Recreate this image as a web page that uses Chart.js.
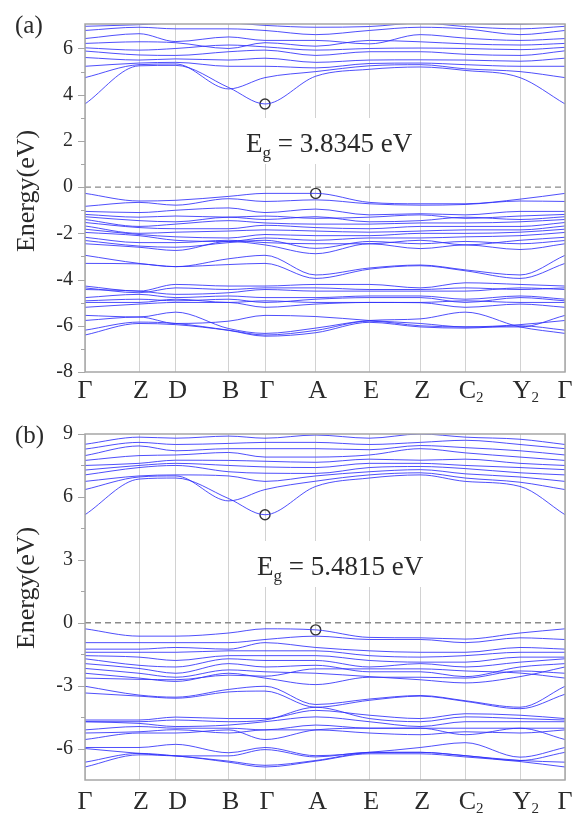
<!DOCTYPE html>
<html>
<head>
<meta charset="utf-8">
<script src="https://cdn.jsdelivr.net/npm/chart.js@4.4.0/dist/chart.umd.min.js"></script>
<style>
  html, body { margin: 0; padding: 0; background: #fff; }
  canvas { position: absolute; left: 0; }
  #bandsA { top: 0; }
  #bandsB { top: 410px; }
</style>
</head>
<body>
<canvas id="bandsA" width="573" height="410"></canvas>
<canvas id="bandsB" width="573" height="403"></canvas>
<script>
// k-path (distance along path) and its labels
var kPoints = [0, 54, 90.7, 143.7, 180, 230.7, 284.3, 335.3, 380.3, 435, 480];
var kLabels = ['Γ', 'Z', 'D', 'B', 'Γ', 'A', 'E', 'Z', 'C₂', 'Y₂', 'Γ'];

// panel (a): energies (eV) at each k-point, Γ Z D B Γ A E Z C2 Y2 Γ
var yTicksA = [-8, -6, -4, -2, 0, 2, 4, 6];
var yMinorA = [-7, -5, -3, -1, 1, 3, 5];
var condA = [
  [3.6, 5.25, 5.27, 4.31, 3.6, 4.8, 5.1, 5.2, 5.05, 4.74, 3.6],
  [4.74, 5.3, 5.33, 4.25, 4.74, 5.0, 5.25, 5.3, 5.12, 5.0, 4.74],
  [5.23, 5.37, 5.4, 5.23, 5.23, 5.16, 5.35, 5.37, 5.3, 5.23, 5.23],
  [5.61, 5.5, 5.55, 5.5, 5.58, 5.4, 5.5, 5.51, 5.5, 5.45, 5.58],
  [5.89, 5.72, 5.7, 5.86, 5.93, 5.7, 5.86, 5.86, 5.75, 5.7, 5.9],
  [6.03, 5.93, 6.0, 6.15, 6.07, 5.93, 6.0, 6.02, 6.0, 5.95, 6.05],
  [6.22, 6.29, 6.25, 6.0, 6.25, 6.1, 6.35, 6.29, 6.2, 6.15, 6.22],
  [6.43, 6.64, 6.3, 6.5, 6.35, 6.35, 6.2, 6.6, 6.45, 6.35, 6.43],
  [6.78, 6.92, 6.85, 6.85, 6.78, 6.6, 6.78, 6.92, 6.85, 6.6, 6.78],
  [6.96, 7.03, 7.1, 7.1, 7.0, 6.92, 6.95, 7.1, 6.95, 6.85, 6.96],
  [7.2, 7.3, 7.25, 7.2, 7.15, 7.1, 7.2, 7.3, 7.1, 7.05, 7.2]
];
var valA = [
  [-0.27, -0.6, -0.57, -0.4, -0.27, -0.27, -0.66, -0.72, -0.72, -0.52, -0.27],
  [-0.83, -0.66, -0.78, -0.5, -0.62, -0.55, -0.72, -0.78, -0.75, -0.6, -0.62],
  [-1.05, -1.1, -1.0, -0.9, -1.1, -0.95, -1.2, -1.15, -1.2, -1.05, -1.05],
  [-1.18, -1.3, -1.25, -1.3, -1.25, -1.35, -1.3, -1.2, -1.35, -1.25, -1.18],
  [-1.28, -1.45, -1.5, -1.3, -1.4, -1.28, -1.5, -1.45, -1.3, -1.4, -1.28],
  [-1.4, -1.7, -1.6, -1.45, -1.55, -1.6, -1.6, -1.55, -1.55, -1.5, -1.4],
  [-1.53, -1.75, -1.8, -1.8, -1.65, -1.75, -1.8, -1.7, -1.7, -1.7, -1.53],
  [-1.68, -2.0, -1.95, -1.9, -1.85, -1.9, -1.95, -1.9, -1.85, -1.85, -1.68],
  [-1.82, -2.05, -2.15, -2.2, -2.05, -2.1, -2.1, -2.0, -2.0, -1.95, -1.82],
  [-1.96, -2.1, -2.3, -2.35, -2.2, -2.3, -2.2, -2.2, -2.15, -2.1, -1.96],
  [-2.17, -2.4, -2.4, -2.3, -2.4, -2.45, -2.45, -2.3, -2.5, -2.3, -2.17],
  [-2.31, -2.55, -2.6, -2.4, -2.3, -2.65, -2.35, -2.45, -2.35, -2.45, -2.31],
  [-2.45, -2.6, -2.74, -2.35, -2.5, -2.88, -2.45, -2.66, -2.5, -2.7, -2.45],
  [-2.95, -3.3, -3.44, -3.1, -2.95, -3.8, -3.5, -3.37, -3.58, -3.8, -2.95],
  [-3.3, -3.32, -3.44, -3.35, -3.3, -3.95, -3.55, -3.4, -3.62, -3.95, -3.3],
  [-4.28, -4.5, -4.21, -4.28, -4.28, -4.21, -4.21, -4.36, -4.14, -4.21, -4.28],
  [-4.36, -4.57, -4.36, -4.43, -4.36, -4.36, -4.43, -4.43, -4.36, -4.43, -4.36],
  [-4.43, -4.5, -4.64, -4.57, -4.43, -4.5, -4.5, -4.5, -4.5, -4.36, -4.43],
  [-4.78, -4.64, -4.78, -4.71, -4.78, -4.78, -4.71, -4.71, -4.85, -4.71, -4.85],
  [-4.92, -4.85, -4.92, -4.85, -4.99, -4.85, -4.78, -4.78, -4.99, -4.78, -4.92],
  [-4.99, -4.99, -4.85, -4.99, -4.92, -4.99, -4.99, -4.99, -4.92, -4.99, -4.99],
  [-5.2, -5.06, -4.99, -4.99, -5.2, -5.06, -4.99, -5.0, -5.2, -5.06, -5.2],
  [-5.55, -5.62, -5.41, -6.12, -6.33, -6.1, -5.77, -5.7, -5.41, -6.05, -6.33],
  [-5.77, -5.62, -5.9, -5.8, -5.55, -5.6, -5.77, -5.9, -6.05, -6.05, -5.55],
  [-6.19, -5.84, -5.9, -6.19, -6.4, -6.2, -5.8, -6.0, -6.05, -5.95, -5.77],
  [-6.4, -5.9, -5.95, -6.2, -6.45, -6.3, -5.85, -6.05, -6.1, -6.0, -6.19]
];
var gapKA = [180, 230.7];
var gapEA = [3.6, -0.27];

// panel (b)
var yTicksB = [-6, -3, 0, 3, 6, 9];
var yMinorB = [-4.5, -1.5, 1.5, 4.5, 7.5];
var condB = [
  [5.15, 6.85, 6.9, 5.92, 5.15, 6.5, 6.9, 7.05, 6.74, 6.5, 5.15],
  [6.35, 6.95, 7.0, 5.81, 6.35, 6.75, 7.05, 7.15, 6.9, 6.7, 6.35],
  [6.74, 7.0, 7.05, 7.0, 6.74, 7.0, 7.2, 7.3, 7.1, 6.95, 6.74],
  [7.05, 7.4, 7.5, 7.2, 7.13, 7.12, 7.4, 7.45, 7.35, 7.15, 7.05],
  [7.28, 7.5, 7.6, 7.5, 7.43, 7.4, 7.6, 7.6, 7.5, 7.4, 7.3],
  [7.5, 7.6, 7.75, 7.74, 7.7, 7.65, 7.8, 7.75, 7.8, 7.6, 7.5],
  [7.74, 7.97, 8.0, 8.12, 7.9, 7.9, 8.0, 8.3, 8.1, 7.9, 7.74],
  [7.97, 8.43, 8.2, 8.3, 8.3, 8.3, 8.25, 8.45, 8.35, 8.2, 8.0],
  [8.28, 8.6, 8.5, 8.55, 8.6, 8.6, 8.5, 8.6, 8.7, 8.5, 8.3],
  [8.51, 8.85, 8.8, 8.9, 8.8, 8.95, 8.8, 9.0, 8.85, 8.75, 8.5]
];
var valB = [
  [-0.29, -0.64, -0.64, -0.49, -0.29, -0.34, -0.7, -0.72, -0.78, -0.49, -0.29],
  [-0.95, -0.95, -0.95, -0.95, -0.8, -0.64, -0.8, -0.8, -0.95, -0.72, -0.8],
  [-1.26, -1.26, -1.18, -1.26, -0.95, -1.18, -1.34, -1.41, -1.41, -1.18, -1.26],
  [-1.41, -1.41, -1.41, -1.34, -1.34, -1.34, -1.57, -1.64, -1.57, -1.41, -1.41],
  [-1.57, -1.64, -1.8, -1.57, -1.57, -1.57, -1.8, -1.88, -1.88, -1.64, -1.64],
  [-1.72, -2.03, -2.11, -1.72, -1.8, -1.8, -2.11, -1.95, -2.11, -1.88, -1.72],
  [-1.95, -2.18, -2.41, -1.95, -2.11, -2.03, -2.34, -2.34, -2.57, -2.11, -1.95],
  [-2.18, -2.41, -2.6, -2.25, -2.34, -2.41, -2.57, -2.72, -2.87, -2.57, -2.11],
  [-2.41, -2.64, -2.8, -2.41, -2.64, -2.95, -2.6, -2.6, -2.64, -2.3, -2.41],
  [-2.64, -2.7, -2.72, -2.5, -2.55, -2.2, -2.2, -2.2, -2.3, -2.4, -2.64],
  [-3.03, -3.45, -3.55, -3.18, -3.03, -3.9, -3.64, -3.47, -3.72, -4.03, -3.03],
  [-3.35, -3.5, -3.6, -3.3, -3.26, -4.03, -3.7, -3.5, -3.75, -4.1, -3.41],
  [-4.64, -4.64, -4.5, -4.57, -4.57, -4.18, -4.41, -4.57, -4.34, -4.41, -4.57],
  [-4.72, -4.72, -4.64, -4.72, -4.64, -4.03, -4.57, -4.72, -4.49, -4.57, -4.64],
  [-4.72, -4.8, -4.95, -4.88, -4.72, -4.49, -4.72, -4.95, -4.72, -4.72, -4.72],
  [-5.11, -4.95, -5.03, -5.03, -5.11, -4.88, -5.03, -5.03, -5.03, -5.03, -5.03],
  [-5.26, -5.2, -5.1, -5.26, -5.11, -5.11, -5.26, -5.34, -5.2, -5.26, -5.11],
  [-5.57, -5.26, -5.26, -5.11, -5.57, -5.11, -5.03, -5.03, -5.34, -5.03, -5.57],
  [-5.95, -5.95, -5.8, -6.2, -5.95, -6.34, -6.18, -5.95, -5.72, -6.41, -5.95],
  [-6.0, -6.23, -6.35, -6.35, -6.05, -6.4, -6.18, -6.18, -6.34, -6.57, -6.18],
  [-6.65, -6.23, -6.35, -6.6, -6.8, -6.57, -6.2, -6.18, -6.34, -6.57, -6.65],
  [-6.88, -6.3, -6.35, -6.65, -6.88, -6.6, -6.25, -6.25, -6.4, -6.62, -6.88]
];
var gapKB = [180, 230.7];
var gapEB = [5.15, -0.34];

var serif = '"Liberation Serif", "Times New Roman", serif';

var bandDecor = {
  id: 'bandDecor',
  afterDraw: function(chart, args, o) {
    var ctx = chart.ctx, a = chart.chartArea;
    var xs = chart.scales.x, ys = chart.scales.y;
    ctx.save();
    // frame
    ctx.strokeStyle = '#a6a6a6';
    ctx.lineWidth = 1.5;
    ctx.strokeRect(a.left, a.top, a.right - a.left, a.bottom - a.top);
    // tick marks on the energy axis
    ctx.beginPath();
    o.major.forEach(function(v) {
      var y = Math.round(ys.getPixelForValue(v)) + 0.5;
      ctx.moveTo(a.left - 7, y); ctx.lineTo(a.left, y);
    });
    o.minor.forEach(function(v) {
      var y = Math.round(ys.getPixelForValue(v)) + 0.5;
      ctx.moveTo(a.left - 4, y); ctx.lineTo(a.left, y);
    });
    ctx.lineWidth = 1.2;
    ctx.stroke();

    ctx.fillStyle = '#2a2a2a';
    // k-point labels with subscripts
    ctx.textBaseline = 'alphabetic';
    kLabels.forEach(function(lab, i) {
      var main = lab.charAt(0), sub = lab.slice(1).replace('₂', '2');
      ctx.font = '26px ' + serif;
      var w1 = ctx.measureText(main).width;
      var x = xs.getPixelForValue(kPoints[i]) + (i > 0 && i < kLabels.length - 1 ? 2 : 0);
      ctx.textAlign = 'left';
      ctx.fillText(main, x - w1 / 2, o.labelBase);
      if (sub) {
        ctx.font = '15px ' + serif;
        ctx.fillText(sub, x + w1 / 2, o.labelBase + 4);
      }
    });

    // gap annotation with white box
    ctx.font = '27px ' + serif;
    var wE = ctx.measureText('E').width;
    ctx.font = '17px ' + serif;
    var wg = ctx.measureText('g').width;
    ctx.font = '27px ' + serif;
    var rest = ' = ' + o.gapText + ' eV';
    var wr = ctx.measureText(rest).width;
    ctx.fillStyle = '#fff';
    ctx.fillRect(o.gapX - 6, o.gapBase - 34, wE + wg + wr + 12, 46);
    ctx.fillStyle = '#2a2a2a';
    ctx.fillText('E', o.gapX, o.gapBase);
    ctx.font = '17px ' + serif;
    ctx.fillText('g', o.gapX + wE, o.gapBase + 6);
    ctx.font = '27px ' + serif;
    ctx.fillText(rest, o.gapX + wE + wg, o.gapBase);

    // panel tag
    ctx.font = '25px ' + serif;
    ctx.fillText(o.tag, 15, 33);

    // axis title
    ctx.translate(27, o.titleY);
    ctx.rotate(-Math.PI / 2);
    ctx.textAlign = 'center';
    ctx.textBaseline = 'middle';
    ctx.font = '26px ' + serif;
    ctx.fillText('Energy(eV)', 0, 0);
    ctx.restore();
  }
};

function toXY(band) {
  return band.map(function(e, i) { return { x: kPoints[i], y: e }; });
}

function buildPanel(id, cond, val, gapK, gapE, yMin, yMax, yTicks, yMinor, pad, axisH, deco) {
  var datasets = [];
  cond.concat(val).forEach(function(b) {
    datasets.push({
      data: toXY(b),
      borderColor: 'rgba(48,48,250,0.85)',
      borderWidth: 1,
      pointRadius: 0,
      cubicInterpolationMode: 'monotone',
      fill: false
    });
  });
  datasets.push({
    data: [{ x: kPoints[0], y: 0 }, { x: kPoints[kPoints.length - 1], y: 0 }],
    borderColor: '#8a8a8a',
    borderWidth: 1.3,
    borderDash: [6, 4],
    pointRadius: 0
  });
  datasets.push({
    data: gapK.map(function(k, i) { return { x: k, y: gapE[i] }; }),
    showLine: false,
    pointRadius: 5,
    pointBorderWidth: 1.4,
    pointBorderColor: '#333',
    pointBackgroundColor: 'rgba(255,255,255,0)',
    clip: false
  });

  new Chart(document.getElementById(id), {
    type: 'line',
    data: { datasets: datasets },
    options: {
      responsive: false,
      animation: false,
      layout: { padding: { left: 0, right: 8, top: pad, bottom: 0 } },
      plugins: { legend: { display: false }, tooltip: { enabled: false }, bandDecor: deco },
      scales: {
        x: {
          type: 'linear',
          min: kPoints[0],
          max: kPoints[kPoints.length - 1],
          afterBuildTicks: function(s) { s.ticks = kPoints.map(function(v) { return { value: v }; }); },
          afterFit: function(s) { s.height = axisH; },
          ticks: { display: false },
          grid: { color: '#d2d2d2', lineWidth: 1, drawTicks: false },
          border: { display: false }
        },
        y: {
          min: yMin,
          max: yMax,
          afterBuildTicks: function(s) { s.ticks = yTicks.map(function(v) { return { value: v }; }); },
          afterFit: function(s) { s.width = 85; },
          ticks: {
            padding: 12,
            color: '#2a2a2a',
            font: { family: serif, size: 20 },
            callback: function(v) { return String(v); }
          },
          grid: { display: false, drawTicks: false },
          border: { display: false }
        }
      }
    },
    plugins: [bandDecor]
  });
}

buildPanel('bandsA', condA, valA, gapKA, gapEA, -8, 7.06, yTicksA, yMinorA, 15, 38,
  { major: yTicksA, minor: yMinorA, labelBase: 398, gapText: '3.8345', gapX: 246, gapBase: 152, tag: '(a)', titleY: 191 });
buildPanel('bandsB', condB, valB, gapKB, gapEB, -7.5, 9, yTicksB, yMinorB, 13, 33,
  { major: yTicksB, minor: yMinorB, labelBase: 399, gapText: '5.4815', gapX: 257, gapBase: 165, tag: '(b)', titleY: 178 });
</script>
</body>
</html>
